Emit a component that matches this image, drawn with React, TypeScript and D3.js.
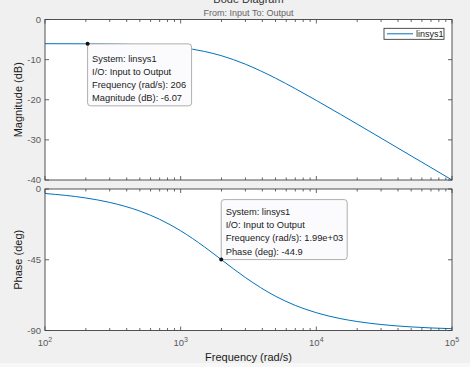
import React from "react";
import * as d3 from "d3";

const freqs = [100, 200, 300, 500, 700, 1000, 1500, 2000, 3000, 5000, 7000, 10000, 15000, 20000, 30000, 50000, 70000, 100000];
const magDb = [-6.03, -6.06, -6.12, -6.29, -6.52, -6.99, -7.96, -9.03, -11.14, -14.62, -17.24, -20.17, -23.6, -26.06, -29.56, -33.99, -36.9, -40.0];
const phaseDeg = [-2.86, -5.71, -8.53, -14.04, -19.29, -26.57, -36.87, -45.0, -56.31, -68.2, -74.05, -78.69, -82.41, -84.29, -86.19, -87.71, -88.36, -88.85];
const magTicks = [0, -10, -20, -30, -40];
const phaseTicks = [0, -45, -90];
const decades = [2, 3, 4, 5];
const tip1 = { f: 206, v: -6.07, lines: ["System: linsys1", "I/O: Input to Output", "Frequency (rad/s): 206", "Magnitude (dB): -6.07"] };
const tip2 = { f: 1990, v: -44.9, lines: ["System: linsys1", "I/O: Input to Output", "Frequency (rad/s): 1.99e+03", "Phase (deg): -44.9"] };

const FONT = "'Liberation Sans', Arial, Helvetica, sans-serif";
const BLUE = "#0072BD";
const AX = "#404040";
const TICKTXT = "#5a5a5a";

export default function App() {
  const L = 45, R = 452;
  const top1 = 19.5, bot1 = 180;
  const top2 = 189, bot2 = 330.5;
  const x = d3.scaleLog().domain([100, 100000]).range([L, R]);
  const yM = d3.scaleLinear().domain([-40, 0]).range([bot1, top1]);
  const yP = d3.scaleLinear().domain([-90, 0]).range([bot2, top2]);

  const minor: number[] = [];
  [100, 1000, 10000].forEach((d) => {
    for (let k = 2; k <= 9; k++) minor.push(d * k);
  });
  const major = [100, 1000, 10000, 100000];

  const magLine = d3.line<number>().x((_, i) => x(freqs[i])).y((v) => yM(v)).curve(d3.curveMonotoneX)(magDb) || "";
  const phLine = d3.line<number>().x((_, i) => x(freqs[i])).y((v) => yP(v)).curve(d3.curveMonotoneX)(phaseDeg) || "";

  const xTicks = (t: number, b: number) => (
    <g stroke={AX} strokeWidth={0.8}>
      {major.map((f) => (
        <g key={"M" + f}>
          <line x1={x(f)} x2={x(f)} y1={b} y2={b - 4} />
          <line x1={x(f)} x2={x(f)} y1={t} y2={t + 4} />
        </g>
      ))}
      {minor.map((f) => (
        <g key={"m" + f}>
          <line x1={x(f)} x2={x(f)} y1={b} y2={b - 2.5} />
          <line x1={x(f)} x2={x(f)} y1={t} y2={t + 2.5} />
        </g>
      ))}
    </g>
  );

  const yTicks = (ticks: number[], s: d3.ScaleLinear<number, number>) => (
    <g>
      {ticks.map((t) => (
        <g key={t}>
          <line x1={L} x2={L + 4} y1={s(t)} y2={s(t)} stroke={AX} strokeWidth={0.8} />
          <line x1={R} x2={R - 4} y1={s(t)} y2={s(t)} stroke={AX} strokeWidth={0.8} />
          <text x={L - 4} y={s(t)} dy="0.35em" textAnchor="end" fontSize={9.5} fill={TICKTXT} fontFamily={FONT}>
            {t}
          </text>
        </g>
      ))}
    </g>
  );

  const tipBox = (tip: typeof tip1, bx: number, by: number, w: number, h: number, y0: number) => (
    <g>
      <rect x={bx} y={by} width={w} height={h} rx={3} fill="#fbfbfd" stroke="#9a9a9a" strokeWidth={0.8} />
      {tip.lines.map((ln, i) => (
        <text key={i} x={bx + 4.5} y={y0 + i * 13.3} dy="0.35em" fontSize={9.3} fill="#1a1a1a" fontFamily={FONT}>
          {ln}
        </text>
      ))}
    </g>
  );

  const cx = (L + R) / 2;
  const m1x = x(tip1.f), m1y = yM(tip1.v);
  const m2x = x(tip2.f), m2y = yP(tip2.v);

  return (
    <svg width={470} height={367} style={{ position: "absolute", left: 0, top: 0 }} fontFamily={FONT}>
      <rect x={0} y={0} width={470} height={367} fill="#f0f0f0" />
      <rect x={0} y={363} width={470} height={4} fill="#f7f7f7" />
      <text x={cx} y={3} textAnchor="middle" fontSize={11} fill="#333" fontFamily={FONT}>Bode Diagram</text>
      <text x={cx} y={12.7} dy="0.35em" textAnchor="middle" fontSize={9} fill="#666" fontFamily={FONT}>From: Input  To: Output</text>

      {/* top plot */}
      <rect x={L} y={top1} width={R - L} height={bot1 - top1} fill="#ffffff" />
      {/* bottom plot */}
      <rect x={L} y={top2} width={R - L} height={bot2 - top2} fill="#ffffff" />

      <path d={magLine} fill="none" stroke={BLUE} strokeWidth={1} />
      <path d={phLine} fill="none" stroke={BLUE} strokeWidth={1} />

      {xTicks(top1, bot1)}
      {xTicks(top2, bot2)}
      {yTicks(magTicks, yM)}
      {yTicks(phaseTicks, yP)}

      <rect x={L} y={top1} width={R - L} height={bot1 - top1} fill="none" stroke={AX} strokeWidth={0.9} />
      <rect x={L} y={top2} width={R - L} height={bot2 - top2} fill="none" stroke={AX} strokeWidth={0.9} />

      {/* x tick labels */}
      {major.map((f, i) => (
        <text key={f} x={x(f)} y={346} textAnchor="middle" fontSize={9.5} fill={TICKTXT} fontFamily={FONT}>
          10
          <tspan dy={-4} fontSize={7}>{decades[i]}</tspan>
        </text>
      ))}

      <text x={cx} y={357} dy="0.35em" textAnchor="middle" fontSize={11} fill="#1a1a1a" fontFamily={FONT}>Frequency  (rad/s)</text>
      <text transform={`translate(18,${(top1 + bot1) / 2}) rotate(-90)`} dy="0.35em" textAnchor="middle" fontSize={11} fill="#1a1a1a" fontFamily={FONT}>Magnitude (dB)</text>
      <text transform={`translate(18,${(top2 + bot2) / 2}) rotate(-90)`} dy="0.35em" textAnchor="middle" fontSize={11} fill="#1a1a1a" fontFamily={FONT}>Phase (deg)</text>

      {/* legend */}
      <rect x={384} y={28.3} width={60} height={11} fill="#ffffff" stroke="#262626" strokeWidth={0.8} />
      <line x1={387} x2={413} y1={33.8} y2={33.8} stroke={BLUE} strokeWidth={1} />
      <text x={416} y={33.8} dy="0.35em" fontSize={9} fill="#1a1a1a" fontFamily={FONT}>linsys1</text>

      {/* datatips */}
      {tipBox(tip1, m1x, m1y, 104, 62, 58.3)}
      <circle cx={m1x} cy={m1y} r={2} fill="#111" />
      {tipBox(tip2, m2x, m2y - 60, 126, 60, 211.5)}
      <circle cx={m2x} cy={m2y} r={2} fill="#111" />
    </svg>
  );
}
